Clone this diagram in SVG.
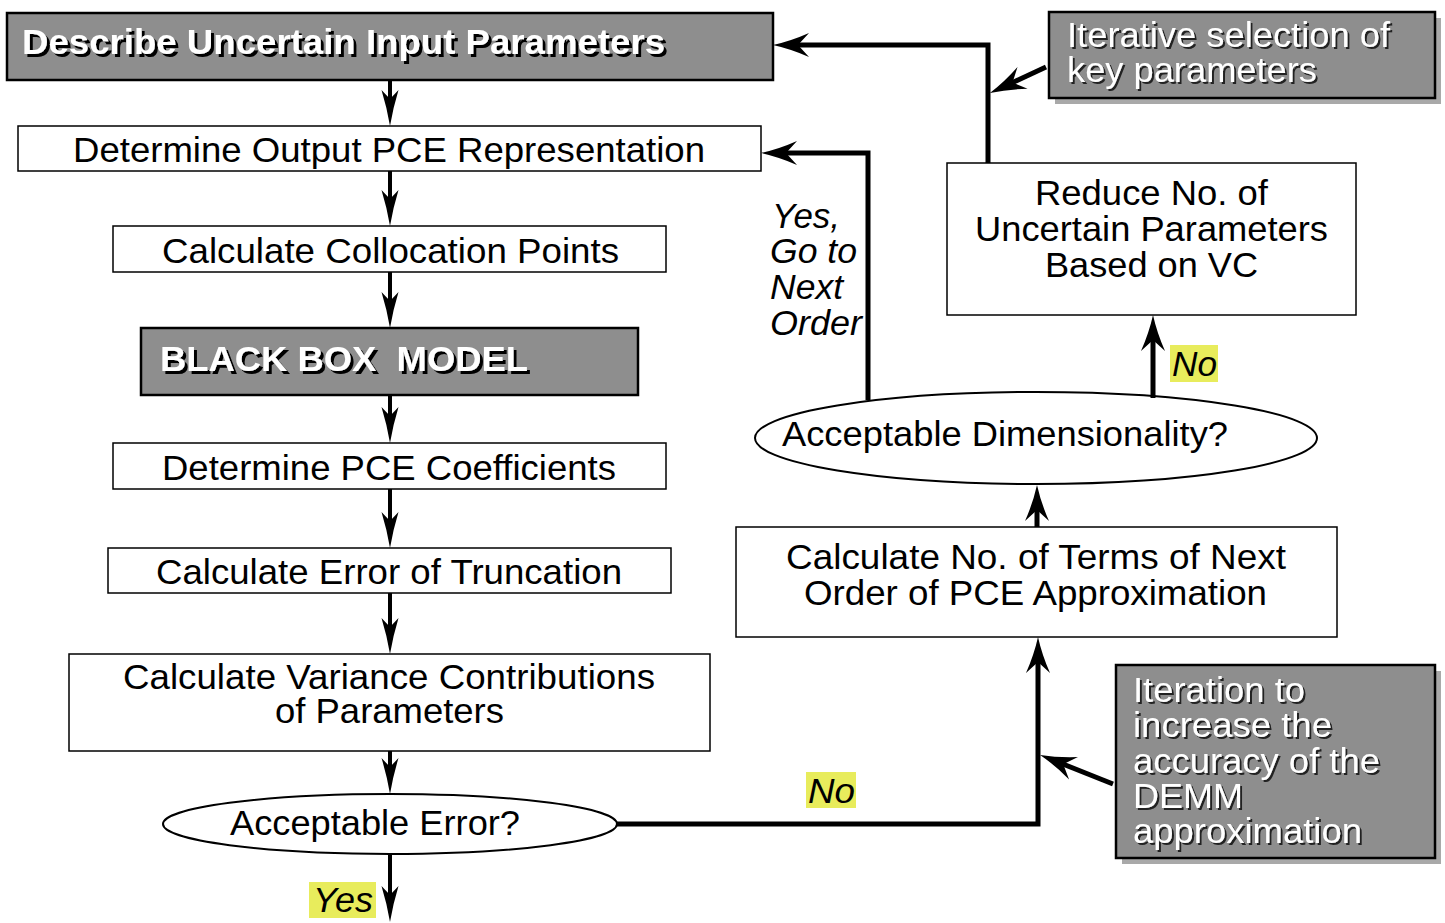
<svg xmlns="http://www.w3.org/2000/svg" width="1445" height="923" viewBox="0 0 1445 923">
  <style>
    text { font-family: "Liberation Sans", Arial, sans-serif; font-size: 35px; fill: #000; }
    .box { fill: #fff; stroke: #000; stroke-width: 1.5; }
    .gray { fill: #8e8e8e; stroke: #000; stroke-width: 2.5; }
    .shade { fill: #a9a9a9; }
    .oval { fill: #fff; stroke: #000; stroke-width: 2; }
    .bold { font-weight: bold; fill: #fff; filter: url(#shadowBold); }
    .wt { fill: #fff; filter: url(#shadowThin); }
    .it { font-style: italic; }
    .hl { fill: #e8ec5c; }
    .flow { fill: none; stroke: #000; stroke-width: 4; }
    .link { fill: none; stroke: #000; stroke-width: 5; }
  </style>
  <defs>
    <filter id="shadowBold" x="-5%" y="-20%" width="110%" height="150%">
      <feFlood flood-color="#000"/>
      <feComposite in2="SourceAlpha" operator="in"/>
      <feOffset dx="3" dy="3" result="sh"/>
      <feMerge><feMergeNode in="sh"/><feMergeNode in="SourceGraphic"/></feMerge>
    </filter>
    <filter id="shadowThin" x="-5%" y="-20%" width="110%" height="150%">
      <feFlood flood-color="#222"/>
      <feComposite in2="SourceAlpha" operator="in"/>
      <feOffset dx="2" dy="2" result="sh"/>
      <feMerge><feMergeNode in="sh"/><feMergeNode in="SourceGraphic"/></feMerge>
    </filter>
    <marker id="headNarrow" markerUnits="userSpaceOnUse" viewBox="-40 -12 45 24" markerWidth="45" markerHeight="24" refX="-15" refY="0" orient="auto">
      <path d="M0,0 Q-18,-3 -36,-8.5 L-27,0 L-36,8.5 Q-18,3 0,0 Z" fill="#000"/>
    </marker>
    <marker id="headWide" markerUnits="userSpaceOnUse" viewBox="-40 -15 45 30" markerWidth="45" markerHeight="30" refX="-15" refY="0" orient="auto">
      <path d="M0,0 Q-18,-4 -36,-12 L-25,0 L-36,12 Q-18,4 0,0 Z" fill="#000"/>
    </marker>
  </defs>

  <!-- main process column -->
  <g id="describe-inputs">
    <rect class="gray" x="7" y="13" width="766" height="67"/>
    <text class="bold" x="22" y="54" textLength="643" lengthAdjust="spacingAndGlyphs">Describe Uncertain Input Parameters</text>
  </g>
  <g id="output-pce">
    <rect class="box" x="18" y="126" width="743" height="45"/>
    <text x="73" y="162" textLength="632" lengthAdjust="spacingAndGlyphs">Determine Output PCE Representation</text>
  </g>
  <g id="collocation">
    <rect class="box" x="113" y="226" width="553" height="46"/>
    <text x="162" y="263" textLength="457" lengthAdjust="spacingAndGlyphs">Calculate Collocation Points</text>
  </g>
  <g id="black-box">
    <rect class="gray" x="141" y="328" width="497" height="67"/>
    <text class="bold" x="160" y="371" textLength="368" lengthAdjust="spacingAndGlyphs">BLACK BOX&#160; MODEL</text>
  </g>
  <g id="coefficients">
    <rect class="box" x="113" y="443" width="553" height="46"/>
    <text x="162" y="480" textLength="454" lengthAdjust="spacingAndGlyphs">Determine PCE Coefficients</text>
  </g>
  <g id="truncation-error">
    <rect class="box" x="108" y="548" width="563" height="45"/>
    <text x="156" y="584" textLength="466" lengthAdjust="spacingAndGlyphs">Calculate Error of Truncation</text>
  </g>
  <g id="variance">
    <rect class="box" x="69" y="654" width="641" height="97"/>
    <text x="123" y="689" textLength="532" lengthAdjust="spacingAndGlyphs">Calculate Variance Contributions</text>
    <text x="275" y="723" textLength="229" lengthAdjust="spacingAndGlyphs">of Parameters</text>
  </g>
  <g id="error-check">
    <ellipse class="oval" cx="390" cy="824" rx="227" ry="30"/>
    <text x="230" y="835" textLength="290" lengthAdjust="spacingAndGlyphs">Acceptable Error?</text>
  </g>

  <!-- iteration loop -->
  <g id="reduce-params">
    <rect class="box" x="947" y="163" width="409" height="152"/>
    <text x="1035" y="205" textLength="233" lengthAdjust="spacingAndGlyphs">Reduce No. of</text>
    <text x="975" y="241" textLength="353" lengthAdjust="spacingAndGlyphs">Uncertain Parameters</text>
    <text x="1045" y="277" textLength="213" lengthAdjust="spacingAndGlyphs">Based on VC</text>
  </g>
  <g id="dimension-check">
    <ellipse class="oval" cx="1036" cy="438" rx="281" ry="46"/>
    <text x="782" y="446" textLength="446" lengthAdjust="spacingAndGlyphs">Acceptable Dimensionality?</text>
  </g>
  <g id="next-order">
    <rect class="box" x="736" y="527" width="601" height="110"/>
    <text x="786" y="569" textLength="500" lengthAdjust="spacingAndGlyphs">Calculate No. of Terms of Next</text>
    <text x="804" y="605" textLength="463" lengthAdjust="spacingAndGlyphs">Order of PCE Approximation</text>
  </g>

  <!-- callout notes -->
  <g id="note-key-params">
    <rect class="shade" x="1055" y="18" width="386" height="86"/>
    <rect class="gray" x="1049" y="12" width="386" height="86"/>
    <text class="wt" x="1067" y="47" textLength="323" lengthAdjust="spacingAndGlyphs">Iterative selection of</text>
    <text class="wt" x="1067" y="82" textLength="250" lengthAdjust="spacingAndGlyphs">key parameters</text>
  </g>
  <g id="note-accuracy">
    <rect class="shade" x="1122" y="671" width="319" height="193"/>
    <rect class="gray" x="1116" y="665" width="319" height="193"/>
    <text class="wt" x="1133" y="702" textLength="172" lengthAdjust="spacingAndGlyphs">Iteration to</text>
    <text class="wt" x="1133" y="737" textLength="199" lengthAdjust="spacingAndGlyphs">increase the</text>
    <text class="wt" x="1133" y="773" textLength="247" lengthAdjust="spacingAndGlyphs">accuracy of the</text>
    <text class="wt" x="1133" y="808" textLength="110" lengthAdjust="spacingAndGlyphs">DEMM</text>
    <text class="wt" x="1133" y="843" textLength="229" lengthAdjust="spacingAndGlyphs">approximation</text>
  </g>

  <!-- connectors and their labels -->
  <g id="connectors">
    <path class="flow" d="M390,80 V111" marker-end="url(#headNarrow)"/>
    <path class="flow" d="M390,171 V211" marker-end="url(#headNarrow)"/>
    <path class="flow" d="M390,272 V313" marker-end="url(#headNarrow)"/>
    <path class="flow" d="M390,395 V428" marker-end="url(#headNarrow)"/>
    <path class="flow" d="M390,489 V533" marker-end="url(#headNarrow)"/>
    <path class="flow" d="M390,593 V639" marker-end="url(#headNarrow)"/>
    <path class="flow" d="M390,751 V779" marker-end="url(#headNarrow)"/>
    <path class="flow" d="M390,854 V907" marker-end="url(#headNarrow)"/>

    <path class="link" d="M617,824 H1038 V652" marker-end="url(#headWide)"/>
    <path class="link" d="M1037,527 V500" marker-end="url(#headWide)"/>
    <path class="link" d="M1153,398 V330" marker-end="url(#headWide)"/>
    <path class="link" d="M868,400 V153 H776" marker-end="url(#headWide)"/>
    <path class="link" d="M988,163 V45 H788" marker-end="url(#headWide)"/>
    <path class="link" d="M1046,67 L1003.5,86.7" marker-end="url(#headWide)"/>
    <path class="link" d="M1113,784 L1054,760.5" marker-end="url(#headWide)"/>

    <rect class="hl" x="309" y="882" width="67" height="36"/>
    <text class="it" x="313" y="912" textLength="60" lengthAdjust="spacingAndGlyphs">Yes</text>
    <rect class="hl" x="806" y="772" width="50" height="36"/>
    <text class="it" x="808" y="803" textLength="47" lengthAdjust="spacingAndGlyphs">No</text>
    <rect class="hl" x="1170" y="345" width="48" height="37"/>
    <text class="it" x="1172" y="376" textLength="45" lengthAdjust="spacingAndGlyphs">No</text>
    <text class="it" x="772" y="228" textLength="68" lengthAdjust="spacingAndGlyphs">Yes,</text>
    <text class="it" x="770" y="263" textLength="87" lengthAdjust="spacingAndGlyphs">Go to</text>
    <text class="it" x="770" y="299" textLength="73" lengthAdjust="spacingAndGlyphs">Next</text>
    <text class="it" x="770" y="335" textLength="92" lengthAdjust="spacingAndGlyphs">Order</text>
  </g>
</svg>
